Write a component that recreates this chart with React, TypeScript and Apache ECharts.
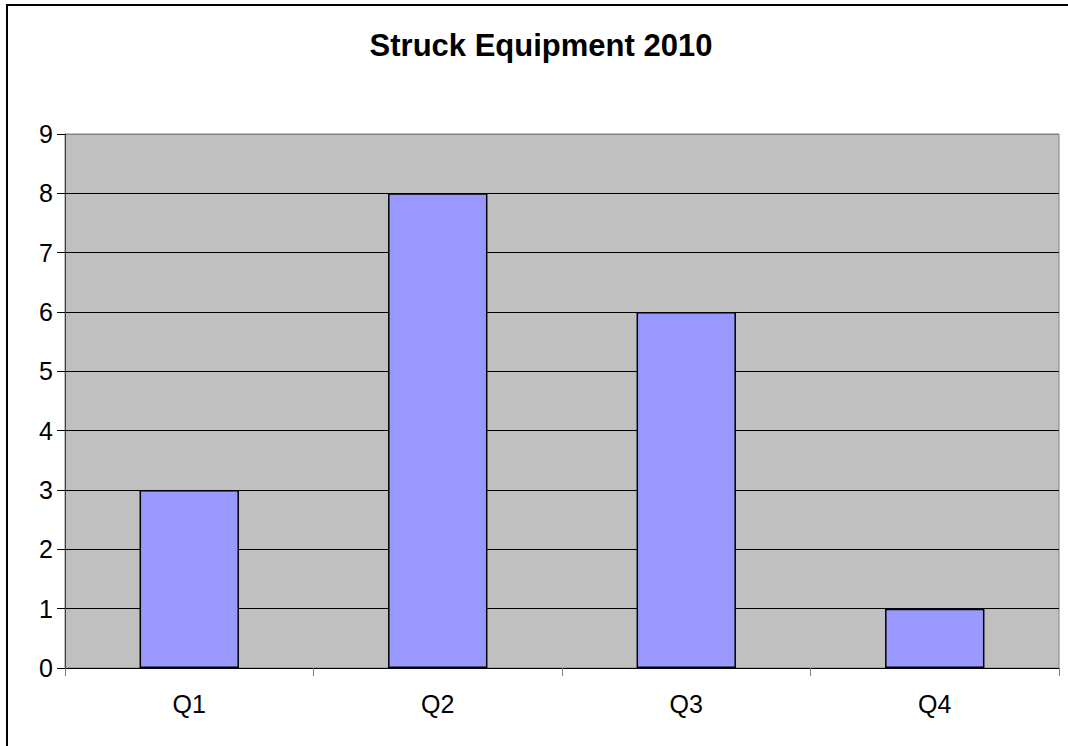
import React, { useEffect, useRef } from "react";
import * as echarts from "echarts";

const titleText = "Struck Equipment 2010";
const categories = ["Q1", "Q2", "Q3", "Q4"];
const values = [3, 8, 6, 1];
const yMin = 0;
const yMax = 9;
const yInterval = 1;

export default function App() {
  const ref = useRef<HTMLDivElement>(null);
  useEffect(() => {
    document.body.style.margin = "0";
    document.body.style.overflow = "hidden";
    if (!ref.current) return;
    const chart = echarts.init(ref.current, null, { renderer: "svg" });
    const font = "'Liberation Sans', Arial, sans-serif";
    const nLines = Math.round((yMax - yMin) / yInterval) + 1;
    const splitColors = Array.from({ length: nLines }, (_, i) => (i === nLines - 1 ? "#808080" : "#000000"));
    chart.setOption({
      animation: false,
      backgroundColor: "#ffffff",
      title: {
        text: titleText,
        left: 541,
        top: 30,
        padding: 0,
        textAlign: "center",
        textStyle: { fontFamily: font, fontSize: 31, fontWeight: "bold", color: "#000" },
      },
      graphic: [
        {
          type: "rect",
          shape: { x: 1061, y: 6, width: 7, height: 740 },
          style: { fill: "#ffffff" },
          silent: true,
          z: 0,
        },
        {
          type: "line",
          shape: { x1: 7, y1: 5, x2: 1068, y2: 5 },
          style: { stroke: "#000", lineWidth: 2 },
          silent: true,
        },
        {
          type: "line",
          shape: { x1: 7, y1: 4, x2: 7, y2: 746 },
          style: { stroke: "#000", lineWidth: 2 },
          silent: true,
        },
      ],
      grid: {
        left: 65,
        top: 134,
        right: 9,
        bottom: 78,
        show: true,
        backgroundColor: "#C0C0C0",
        borderColor: "#808080",
        borderWidth: 1,
        containLabel: false,
      },
      xAxis: {
        type: "category",
        data: categories,
        axisLine: { show: true, lineStyle: { color: "#000", width: 1 } },
        axisTick: { show: true, length: 8, lineStyle: { color: "#808080", width: 1 } },
        axisLabel: { fontFamily: font, fontSize: 25, color: "#000", margin: 23 },
        splitLine: { show: false },
      },
      yAxis: {
        type: "value",
        min: yMin,
        max: yMax,
        interval: yInterval,
        axisLine: { show: true, lineStyle: { color: "#404040", width: 1 } },
        axisTick: { show: true, length: 8, lineStyle: { color: "#000", width: 1 } },
        axisLabel: { fontFamily: font, fontSize: 25, color: "#000", margin: 12 },
        splitLine: { show: true, lineStyle: { color: splitColors, width: 1 } },
      },
      series: [
        {
          type: "bar",
          data: values,
          barWidth: "40%",
          itemStyle: { color: "#9999FF", borderColor: "#000", borderWidth: 1.5 },
        },
      ],
    });
    return () => chart.dispose();
  }, []);
  return (
    <div
      ref={ref}
      style={{ position: "absolute", left: 0, top: 0, width: 1068, height: 746 }}
    />
  );
}
